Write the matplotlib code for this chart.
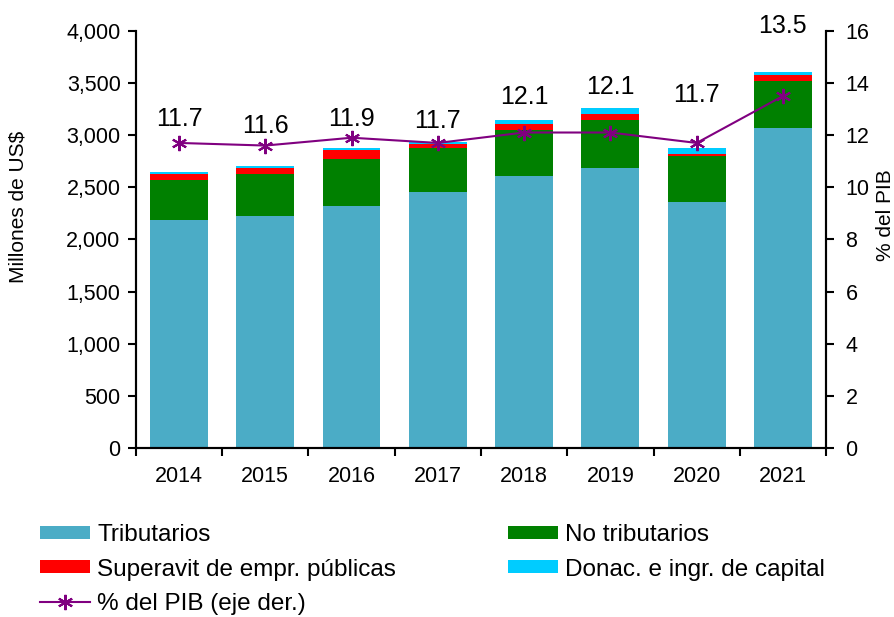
import numpy as np
import matplotlib
matplotlib.use("Agg")
import matplotlib.pyplot as plt

years = ["2014", "2015", "2016", "2017", "2018", "2019", "2020", "2021"]
tributarios = [2187, 2228, 2324, 2456, 2609, 2686, 2360, 3070]
no_tributarios = [384, 398, 451, 419, 438, 457, 438, 453]
superavit = [57, 60, 84, 41, 58, 58, 19, 58]
donaciones = [19, 19, 19, 19, 38, 57, 61, 23]
pct_pib = [11.7, 11.6, 11.9, 11.7, 12.1, 12.1, 11.7, 13.5]

# label offsets above the points (pixels), as in the original
label_off = [24, 20, 19, 22, 36, 46, 48, 70]

plt.rcParams["font.family"] = ["Liberation Sans", "DejaVu Sans"]

fig = plt.figure(figsize=(8.94, 6.17), dpi=100)
ax = fig.add_axes([0.152, 0.274, 0.772, 0.676])
ax2 = ax.twinx()

x = np.arange(len(years))
w = 0.67
c_trib = "#4BACC6"
c_notrib = "#008000"
c_sup = "#FF0000"
c_don = "#00CCFF"

bottom = np.zeros(len(years))
b1 = ax.bar(x, tributarios, w, bottom=bottom, color=c_trib, label="Tributarios")
bottom += tributarios
b2 = ax.bar(x, no_tributarios, w, bottom=bottom, color=c_notrib, label="No tributarios")
bottom += no_tributarios
b3 = ax.bar(x, superavit, w, bottom=bottom, color=c_sup, label="Superavit de empr. públicas")
bottom += superavit
b4 = ax.bar(x, donaciones, w, bottom=bottom, color=c_don, label="Donac. e ingr. de capital")

ln, = ax2.plot(x, pct_pib, color="#800080", lw=1.5, marker=(6, 2, 0), ms=11,
               mew=1.5, label="% del PIB (eje der.)")
for xi, v, off in zip(x, pct_pib, label_off):
    ax2.annotate(f"{v:.1f}", (xi, v), xytext=(0, off * 0.72), textcoords="offset points",
                 ha="center", va="center", fontsize=18)

ax.set_xlim(-0.5, len(years) - 0.5)
ax.set_ylim(0, 4000)
ax.set_yticks(np.arange(0, 4001, 500))
ax.set_yticklabels([f"{v:,}" for v in range(0, 4001, 500)])
ax2.set_ylim(0, 16)
ax2.set_yticks(np.arange(0, 17, 2))

ax.set_xticks(x)
ax.set_xticklabels(years)
ax.set_xticks(np.arange(-0.5, len(years), 1), minor=True)
ax.tick_params(axis="x", which="major", length=0, pad=13, labelsize=15.5)
ax.tick_params(axis="x", which="minor", length=6, width=1.5, direction="out")
ax.tick_params(axis="y", length=6, width=1.5, direction="out", labelsize=15.5, pad=5)
ax2.tick_params(axis="y", length=6, width=1.5, direction="out", labelsize=15.5, pad=8)

for a in (ax, ax2):
    a.spines["top"].set_visible(False)
    for s in ("left", "right", "bottom"):
        a.spines[s].set_linewidth(1.5)

ax.set_ylabel("Millones de US$", fontsize=15)
ax.yaxis.set_label_coords(-0.157, 0.578)
ax2.set_ylabel("% del PIB", fontsize=15, rotation=90)
ax2.yaxis.set_label_coords(1.073, 0.559)

handles = [b1, b3, ln, b2, b4]
labels = [h.get_label() for h in handles]
fig.legend(handles, labels, ncol=2, loc="upper left", bbox_to_anchor=(0.045, 0.15),
           frameon=False, fontsize=17.5, handlelength=2.05, handleheight=0.45,
           handletextpad=0.3, columnspacing=4.6, labelspacing=0.5,
           borderpad=0, borderaxespad=0)

fig.savefig("out.png", dpi=100)
